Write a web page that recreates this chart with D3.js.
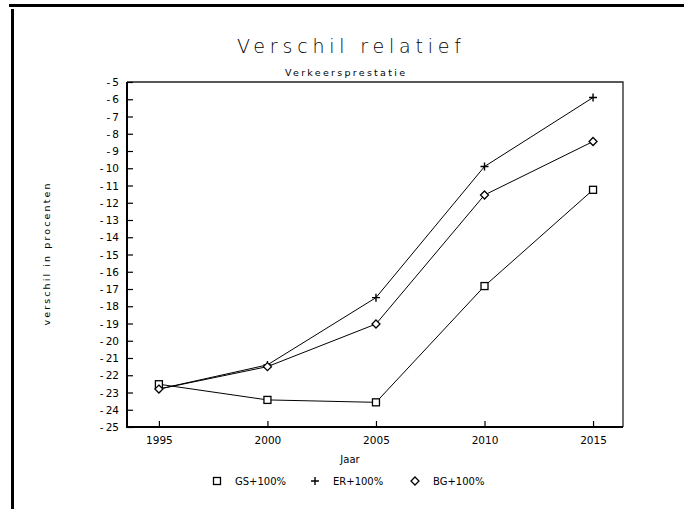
<!DOCTYPE html>
<html>
<head>
<meta charset="utf-8">
<script src="https://cdn.jsdelivr.net/npm/d3@7"></script>
<style>
  html, body { margin: 0; padding: 0; background: #fff; }
  svg { display: block; }
  text { fill: #000; }
</style>
</head>
<body>
<svg id="chart" width="684" height="509"></svg>
<script>
// Years on the x axis
const years = [1995, 2000, 2005, 2010, 2015];
// Relative difference (percent) per scenario
const gsValues = [-22.52, -23.43, -23.57, -16.83, -11.25];
const erValues = [-22.8, -21.4, -17.5, -9.9, -5.9];
const bgValues = [-22.8, -21.5, -19.03, -11.55, -8.45];
const seriesNames = ["GS+100%", "ER+100%", "BG+100%"];
const seriesSymbols = ["square", "plus", "diamond"];
const yTicks = d3.range(-25, -4, 1);

const series = [gsValues, erValues, bgValues].map((vals, i) => ({
  name: seriesNames[i],
  symbol: seriesSymbols[i],
  points: years.map((y, j) => ({ year: y, value: vals[j] }))
}));

const svg = d3.select("#chart");
const W = 684, H = 509;
const plot = { left: 127, right: 623, top: 82, bottom: 427 };

const x = d3.scaleLinear().domain([1993.53, 2016.38]).range([plot.left, plot.right]);
const y = d3.scaleLinear().domain([-25, -5]).range([plot.bottom, plot.top]);

const font = "'DejaVu Sans', Verdana, sans-serif";

// Page frame (top and left edges)
svg.append("path")
  .attr("d", `M9,5.5 H684 M12.5,9 V509`)
  .attr("fill", "none").attr("stroke", "#000").attr("stroke-width", 3);

// Titles
svg.append("text")
  .attr("x", 349).attr("y", 53)
  .attr("text-anchor", "middle")
  .attr("font-family", font).attr("font-weight", 200).attr("font-size", 19)
  .attr("textLength", 224).attr("lengthAdjust", "spacing")
  .text("Verschil relatief");

svg.append("text")
  .attr("x", 345).attr("y", 76)
  .attr("text-anchor", "middle")
  .attr("font-family", font).attr("font-size", 9.5)
  .attr("textLength", 120).attr("lengthAdjust", "spacing")
  .text("Verkeersprestatie");

// Plot frame: heavy left/bottom, lighter top/right
svg.append("path")
  .attr("d", `M${plot.left},${plot.top} H${plot.right} V${plot.bottom}`)
  .attr("fill", "none").attr("stroke", "#222").attr("stroke-width", 1.3);

// Y axis with inward ticks
const yAxis = d3.axisRight(y)
  .tickValues(yTicks)
  .tickSize(6)
  .tickFormat(d => "-\u2009" + Math.abs(d));
const gy = svg.append("g").attr("transform", `translate(${plot.left},0)`).call(yAxis);
gy.select(".domain").remove();
gy.selectAll(".tick line").attr("stroke", "#000").attr("stroke-width", 1.2);
gy.selectAll(".tick text")
  .attr("x", -8).attr("dy", "0.35em")
  .attr("text-anchor", "end")
  .attr("font-family", font).attr("font-size", 10.5);

// X axis with inward ticks
const xAxis = d3.axisTop(x)
  .tickValues(years)
  .tickSize(6)
  .tickFormat(d3.format("d"));
const gx = svg.append("g").attr("transform", `translate(0,${plot.bottom})`).call(xAxis);
gx.select(".domain").remove();
gx.selectAll(".tick line").attr("stroke", "#000").attr("stroke-width", 1.2);
gx.selectAll(".tick text")
  .attr("y", 10).attr("dy", "0.71em")
  .attr("font-family", font).attr("font-size", 10.5);

// Heavy left and bottom axis lines
svg.append("path")
  .attr("d", `M${plot.left},${plot.top} V${plot.bottom} H${plot.right}`)
  .attr("fill", "none").attr("stroke", "#000").attr("stroke-width", 2);

// Axis titles
svg.append("text")
  .attr("x", 350).attr("y", 463)
  .attr("text-anchor", "middle")
  .attr("font-family", font).attr("font-size", 10)
  .text("Jaar");

svg.append("text")
  .attr("transform", `translate(50,${(plot.top + plot.bottom) / 2}) rotate(-90)`)
  .attr("text-anchor", "middle")
  .attr("font-family", font).attr("font-size", 9.5)
  .attr("textLength", 142).attr("lengthAdjust", "spacing")
  .text("verschil in procenten");

// Marker drawing
function drawMarker(g, symbol, cx, cy) {
  if (symbol === "square") {
    g.append("rect").attr("x", cx - 3.5).attr("y", cy - 3.5)
      .attr("width", 7).attr("height", 7)
      .attr("fill", "#fff").attr("stroke", "#000").attr("stroke-width", 1.3);
  } else if (symbol === "plus") {
    g.append("path").attr("d", `M${cx - 4},${cy} H${cx + 4} M${cx},${cy - 4} V${cy + 4}`)
      .attr("stroke", "#000").attr("stroke-width", 1.4);
  } else {
    g.append("path").attr("d", `M${cx},${cy - 4} L${cx + 4},${cy} L${cx},${cy + 4} L${cx - 4},${cy} Z`)
      .attr("fill", "#fff").attr("stroke", "#000").attr("stroke-width", 1.3);
  }
}

// Series lines and markers
const line = d3.line().x(d => x(d.year)).y(d => y(d.value));
const gSeries = svg.append("g");
series.forEach(s => {
  gSeries.append("path").datum(s.points)
    .attr("d", line)
    .attr("fill", "none").attr("stroke", "#000").attr("stroke-width", 1);
});
series.forEach(s => {
  const g = gSeries.append("g");
  s.points.forEach(p => drawMarker(g, s.symbol, x(p.year), y(p.value)));
});

// Legend
const legendX = [217, 315, 415];
const legend = svg.append("g");
series.forEach((s, i) => {
  const g = legend.append("g");
  drawMarker(g, s.symbol, legendX[i], 481);
  g.append("text")
    .attr("x", legendX[i] + 18).attr("y", 481).attr("dy", "0.35em")
    .attr("font-family", font).attr("font-size", 10)
    .text(s.name);
});
</script>
</body>
</html>
